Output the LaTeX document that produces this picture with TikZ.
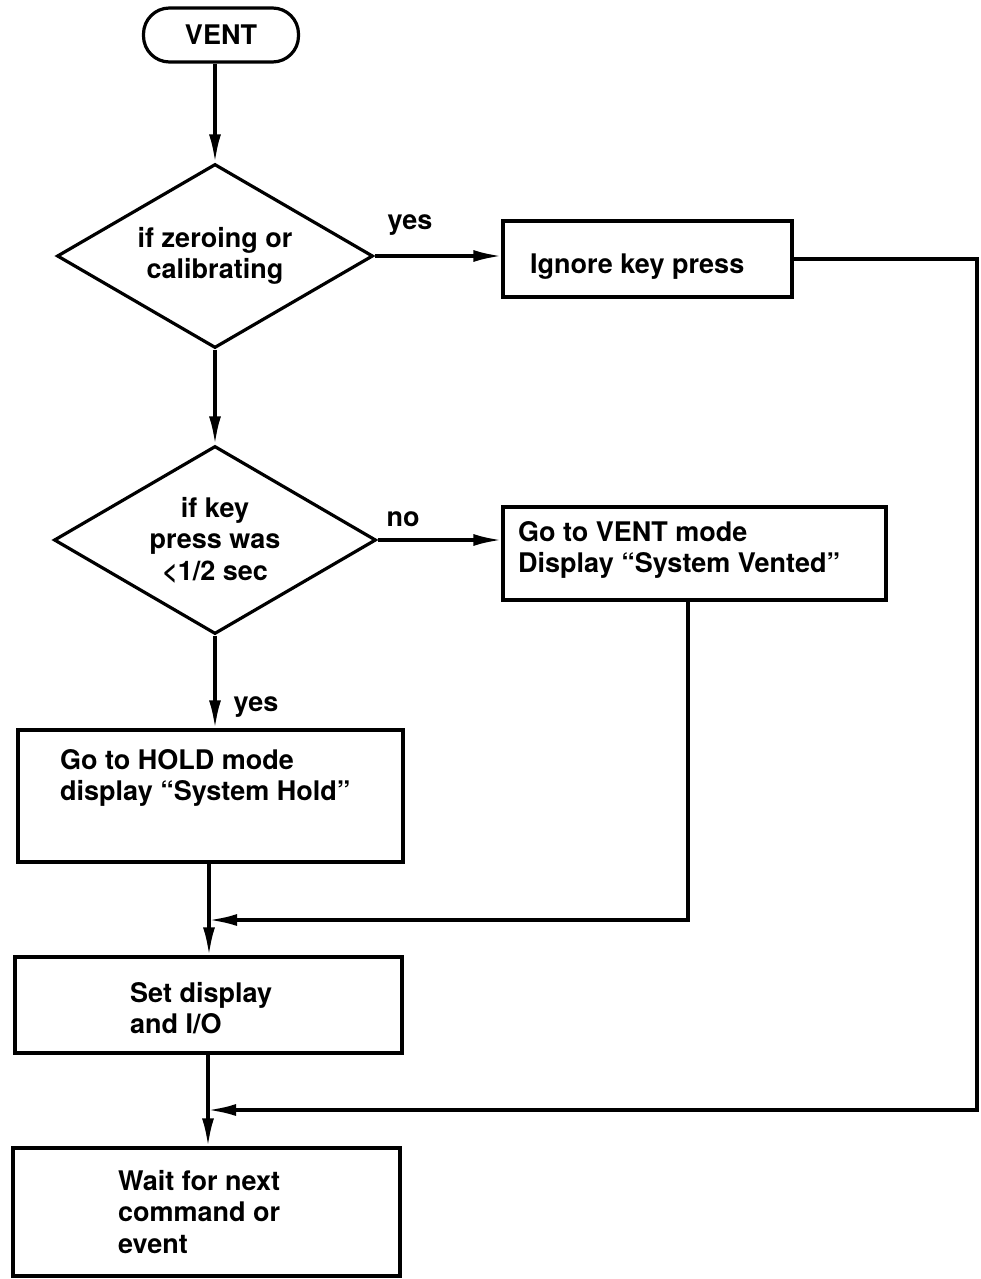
\documentclass[tikz,border=0pt]{standalone}
\usepackage{fontspec}
\setmainfont{TeX Gyre Heros}
\usetikzlibrary{shapes.geometric,arrows.meta}
\begin{document}
\begin{tikzpicture}[x=1pt,y=-1pt,
  every node/.style={font=\fontsize{27}{31.5}\selectfont\bfseries},
  box/.style={draw, line width=3.2pt, rectangle, inner sep=0pt},
  dia/.style={draw, diamond, line width=3.2pt, inner sep=0pt, align=center, aspect=1.72},
  lbl/.style={inner sep=0pt, align=left, anchor=north west},
  conn/.style={line width=3.2pt},
  arr/.style={conn, -{Latex[length=28pt,width=12pt]}}]
\useasboundingbox (0,0) rectangle (980,1279);
% nodes
\node[draw, line width=3.2pt, rounded corners=26pt, minimum width=155pt, minimum height=54pt, inner sep=0pt] (start) at (221,35) {VENT};
\node[dia, minimum width=316pt, minimum height=184pt] (d1) at (215,256) {if zeroing or\\calibrating};
\node[dia, minimum width=322pt, minimum height=188pt] (d2) at (215,540) {if key\\press was\\<1/2 sec};
\node[box, minimum width=289pt, minimum height=76pt] (ign) at (647.5,259) {};
\node[lbl, anchor=base west] (ignt) at (530,273) {Ignore key press};
\node[box, minimum width=383pt, minimum height=93pt] (vb) at (694.5,553.5) {};
\node[lbl] (vbt) at (518,521) {Go to VENT mode\\Display ``System Vented''};
\node[box, minimum width=385pt, minimum height=132pt] (hold) at (210.5,796) {};
\node[lbl] (holdt) at (60,749) {Go to HOLD mode\\display ``System Hold''};
\node[box, minimum width=387pt, minimum height=96pt] (setd) at (208.5,1005) {};
\node[lbl] (setdt) at (130,982) {Set display\\and I/O};
\node[box, minimum width=387pt, minimum height=128pt] (wait) at (206.5,1212) {};
\node[lbl] (waitt) at (118,1170) {Wait for next\\command or\\event};
% labels
\node[inner sep=0pt] (yes1) at (410,225) {yes};
\node[inner sep=0pt] (no) at (403,519) {no};
\node[inner sep=0pt] (yes2) at (256,707) {yes};
% junctions
\coordinate (j1) at (209,920);
\coordinate (j2) at (208,1110);
\coordinate (rc) at (977,1110);
% connectors
\draw[arr] (d1.north |- start.south) -- (d1.north);
\draw[arr] (d1.east) -- (d1.east -| ign.west);
\draw[arr] (d1.south) -- (d2.north);
\draw[arr] (d2.east) -- (d2.east -| vb.west);
\draw[arr] (d2.south) -- (d2.south |- hold.north);
\draw[conn] (j1 |- hold.south) -- (j1);
\draw[arr] (j1) -- (j1 |- setd.north);
\draw[arr] ([xshift=-6.5pt]vb.south) |- (j1);
\draw[conn] (j2 |- setd.south) -- (j2);
\draw[arr] (j2) -- (j2 |- wait.north);
\draw[arr] (ign.east) -| (rc) -- (j2);
\end{tikzpicture}
\end{document}
